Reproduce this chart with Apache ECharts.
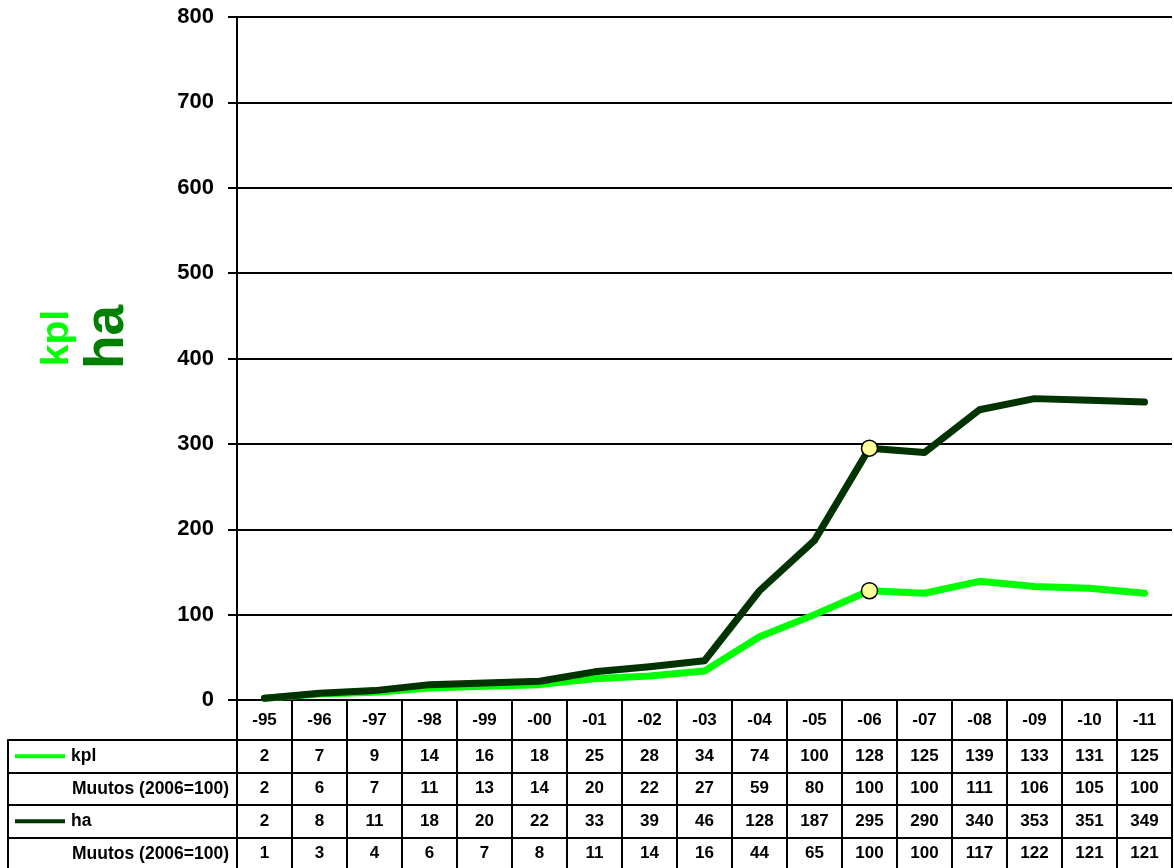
<!DOCTYPE html>
<html lang="fi">

<head>
    <meta charset="UTF-8">
    <meta name="viewport" content="width=device-width, initial-scale=1.0">
    <title>kpl / ha</title>
    <style>
        html,
        body,
        .container {
            margin: 0;
            width: 100%;
            height: 100%;
        }
    </style>
</head>

<body>
    <div id="container" class="container"></div>
    <script src="https://cdn.jsdelivr.net/npm/echarts@6/dist/echarts.min.js"></script>
    <script>
        // data
        var years = ['-95', '-96', '-97', '-98', '-99', '-00', '-01', '-02', '-03', '-04', '-05', '-06', '-07', '-08', '-09', '-10', '-11'];
        var kpl = [2, 7, 9, 14, 16, 18, 25, 28, 34, 74, 100, 128, 125, 139, 133, 131, 125];
        var kplMuutos = [2, 6, 7, 11, 13, 14, 20, 22, 27, 59, 80, 100, 100, 111, 106, 105, 100];
        var ha = [2, 8, 11, 18, 20, 22, 33, 39, 46, 128, 187, 295, 290, 340, 353, 351, 349];
        var haMuutos = [1, 3, 4, 6, 7, 8, 11, 14, 16, 44, 65, 100, 100, 117, 122, 121, 121];
        var rowLabels = ['kpl', 'Muutos (2006=100)', 'ha', 'Muutos (2006=100)'];
        var baseYear = '-06'; // 2006 = 100, marked on both lines

        var yMin = 0, yMax = 800, yStep = 100;

        var kplColor = '#00ff00';
        var haColor = '#003300';
        var black = '#000';
        var font = '"Liberation Sans", Arial, sans-serif';

        var dom = document.getElementById('container');
        var myChart = echarts.init(dom);

        var baseIdx = years.indexOf(baseYear);

        function lineData(values) {
            return values.map(function (v, i) {
                if (i === baseIdx) {
                    return { value: v, symbol: 'circle', symbolSize: 16 };
                }
                return { value: v, symbol: 'none' };
            });
        }

        // table cells: [column, row, value]
        var tableRows = [kpl, kplMuutos, ha, haMuutos];
        var tableData = [];
        tableRows.forEach(function (row, r) {
            row.forEach(function (v, c) {
                tableData.push([c, r, v]);
            });
        });

        var gridLine = { color: black, width: 2 };

        var option = {
            animation: false,
            textStyle: { fontFamily: font },
            grid: [
                { left: 237, right: 2, top: 17, bottom: 168, outerBoundsMode: 'none' },
                { left: 237, right: 2, top: 700, bottom: 0, outerBoundsMode: 'none' },
                { left: 237, right: 2, top: 740, bottom: -2, outerBoundsMode: 'none' },
                { left: 8, width: 229, top: 740, bottom: -2, outerBoundsMode: 'none' }
            ],
            xAxis: [
                {
                    gridIndex: 0,
                    type: 'category',
                    data: years,
                    boundaryGap: true,
                    axisLine: { lineStyle: gridLine },
                    axisTick: { show: false },
                    axisLabel: {
                        interval: 0,
                        margin: 20,
                        verticalAlign: 'middle',
                        fontSize: 17,
                        fontWeight: 'bold',
                        color: black
                    },
                    splitLine: { show: false }
                },
                {
                    // vertical lines of the table
                    gridIndex: 1,
                    type: 'category',
                    data: years,
                    axisLine: { show: false },
                    axisTick: { show: false },
                    axisLabel: { show: false },
                    splitLine: { show: true, interval: 0, lineStyle: gridLine }
                },
                {
                    gridIndex: 2,
                    type: 'category',
                    data: years,
                    show: false
                },
                {
                    gridIndex: 3,
                    type: 'value',
                    show: false
                }
            ],
            yAxis: [
                {
                    gridIndex: 0,
                    type: 'value',
                    min: yMin,
                    max: yMax,
                    interval: yStep,
                    axisLine: { show: true, lineStyle: gridLine },
                    axisTick: { show: true, length: 9, lineStyle: gridLine },
                    axisLabel: {
                        margin: 23,
                        fontSize: 22,
                        fontWeight: 'bold',
                        color: black
                    },
                    splitLine: { show: true, lineStyle: gridLine }
                },
                {
                    gridIndex: 1,
                    type: 'value',
                    show: false
                },
                {
                    // horizontal lines of the table
                    gridIndex: 2,
                    type: 'category',
                    data: ['0', '1', '2', '3'],
                    inverse: true,
                    axisLine: { show: false },
                    axisTick: { show: false },
                    axisLabel: { show: false },
                    splitLine: { show: true, interval: 0, lineStyle: gridLine }
                },
                {
                    // row headers
                    gridIndex: 3,
                    type: 'category',
                    data: ['0', '1', '2', '3'],
                    inverse: true,
                    axisLine: { show: true, lineStyle: gridLine },
                    axisTick: { show: false },
                    splitLine: { show: true, interval: 0, lineStyle: gridLine },
                    axisLabel: {
                        inside: true,
                        margin: 7,
                        interval: 0,
                        fontSize: 17,
                        fontWeight: 'bold',
                        color: black,
                        formatter: function (v, i) {
                            var t = rowLabels[i];
                            if (i === 0) return '{k|}{t|' + t + '}';
                            if (i === 2) return '{h|}{t|' + t + '}';
                            return '{s|}{t|' + t + '}';
                        },
                        rich: {
                            k: { width: 50, height: 4, backgroundColor: kplColor, verticalAlign: 'middle' },
                            h: { width: 50, height: 4, backgroundColor: haColor, verticalAlign: 'middle' },
                            s: { width: 51 },
                            t: { fontSize: 17.5, fontWeight: 'bold', color: black, padding: [0, 0, 0, 6], fontFamily: font }
                        }
                    }
                }
            ],
            graphic: [
                {
                    type: 'text',
                    x: 57,
                    y: 338,
                    rotation: Math.PI / 2,
                    style: {
                        text: 'kpl',
                        fill: kplColor,
                        font: 'bold 39px ' + font,
                        align: 'center',
                        verticalAlign: 'middle'
                    }
                },
                {
                    type: 'text',
                    x: 108,
                    y: 337,
                    rotation: Math.PI / 2,
                    style: {
                        text: 'ha',
                        fill: '#008000',
                        font: 'bold 55px ' + font,
                        align: 'center',
                        verticalAlign: 'middle'
                    }
                }
            ],
            series: [
                {
                    name: 'kpl',
                    type: 'line',
                    xAxisIndex: 0,
                    yAxisIndex: 0,
                    data: lineData(kpl),
                    showSymbol: true,
                    lineStyle: { color: kplColor, width: 7, cap: 'round', join: 'round' },
                    itemStyle: { color: '#ffff99', borderColor: black, borderWidth: 1.5 },
                    z: 3
                },
                {
                    name: 'ha',
                    type: 'line',
                    xAxisIndex: 0,
                    yAxisIndex: 0,
                    data: lineData(ha),
                    showSymbol: true,
                    lineStyle: { color: haColor, width: 7, cap: 'round', join: 'round' },
                    itemStyle: { color: '#ffff99', borderColor: black, borderWidth: 1.5 },
                    z: 4
                },
                {
                    name: 'taulukko',
                    type: 'scatter',
                    xAxisIndex: 2,
                    yAxisIndex: 2,
                    data: tableData,
                    symbolSize: 1,
                    silent: true,
                    itemStyle: { color: 'transparent', opacity: 1 },
                    label: {
                        show: true,
                        position: 'inside',
                        formatter: function (p) {
                            return p.value[2];
                        },
                        fontSize: 17,
                        fontWeight: 'bold',
                        color: black,
                        opacity: 1
                    }
                }
            ]
        };

        myChart.setOption(option);
    </script>
</body>

</html>
